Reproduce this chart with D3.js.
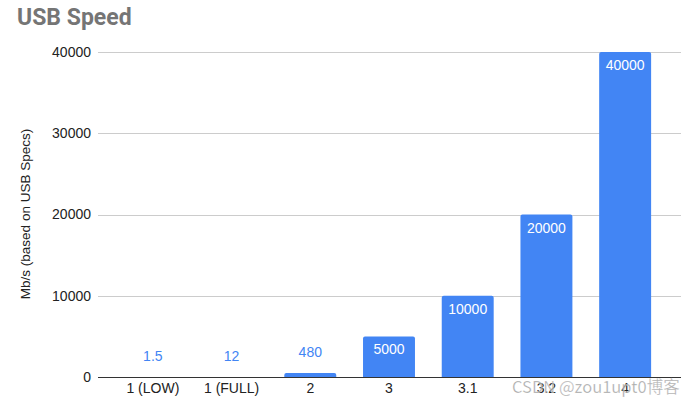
<!DOCTYPE html>
<html>
<head>
<meta charset="utf-8">
<script src="https://cdn.jsdelivr.net/npm/d3@7"></script>
<style>
  html, body { margin: 0; padding: 0; background: #fff; }
  svg { display: block; }
</style>
</head>
<body>
<svg id="chart" width="700" height="406"></svg>
<script>
const categories = ["1 (LOW)", "1 (FULL)", "2", "3", "3.1", "3.2", "4"];
const values = [1.5, 12, 480, 5000, 10000, 20000, 40000];
const valueLabels = ["1.5", "12", "480", "5000", "10000", "20000", "40000"];
const yTicks = [0, 10000, 20000, 30000, 40000];

const svg = d3.select("#chart");
const titleFont = "Roboto, Arial, sans-serif";
const font = "Arial, 'Liberation Sans', Helvetica, sans-serif";
const blue = "#4285F4";

const gridLeft = 98, gridRight = 681;
const x = d3.scaleBand().domain(categories).range([113.5, 664.5]).paddingInner(0.34).paddingOuter(0.17);
const y = d3.scaleLinear().domain([0, 40000]).range([377, 52]);

// title
svg.append("text").attr("x", 17).attr("y", 25)
  .attr("font-family", titleFont).attr("font-size", 23).attr("font-weight", "bold")
  .attr("fill", "#757575").text("USB Speed");

// gridlines
svg.append("g").selectAll("line").data(yTicks.filter(d => d !== 0)).join("line")
  .attr("x1", gridLeft).attr("x2", gridRight)
  .attr("y1", d => Math.round(y(d)) + 0.5).attr("y2", d => Math.round(y(d)) + 0.5)
  .attr("stroke", "#cccccc").attr("stroke-width", 1);

// y axis labels
const yAxis = d3.axisLeft(y).tickValues(yTicks).tickSize(0).tickPadding(0).tickFormat(d3.format("d"));
const gy = svg.append("g").attr("transform", `translate(${91},0)`).call(yAxis);
gy.select(".domain").remove();
gy.selectAll("text").attr("font-family", font).attr("font-size", 14).attr("fill", "#222");

// y axis title
svg.append("text")
  .attr("transform", `translate(30,214) rotate(-90)`)
  .attr("text-anchor", "middle")
  .attr("font-family", font).attr("font-size", 13.5).attr("fill", "#222")
  .text("Mb/s (based on USB Specs)");

// bars
svg.append("g").selectAll("path").data(values).join("path")
  .attr("d", (d, i) => {
    const x0 = x(categories[i]), w = x.bandwidth();
    const y0 = y(d), y1 = y(0);
    const h = y1 - y0;
    if (h < 0.5) return "";
    const r = Math.min(2, h);
    return `M${x0},${y1} L${x0},${y0 + r} Q${x0},${y0} ${x0 + r},${y0} L${x0 + w - r},${y0} Q${x0 + w},${y0} ${x0 + w},${y0 + r} L${x0 + w},${y1} Z`;
  })
  .attr("fill", blue);

// value labels
svg.append("g").selectAll("text").data(values).join("text")
  .attr("x", (d, i) => x(categories[i]) + x.bandwidth() / 2)
  .attr("y", d => {
    const h = y(0) - y(d);
    if (h > 25) return y(d) + 18;
    return Math.min(y(d), y(0)) - 16;
  })
  .attr("text-anchor", "middle")
  .attr("font-family", font).attr("font-size", 14)
  .attr("fill", d => (y(0) - y(d) > 25 ? "#fff" : blue))
  .text((d, i) => valueLabels[i]);

// zero line
svg.append("line").attr("x1", gridLeft).attr("x2", gridRight)
  .attr("y1", y(0) + 0.5).attr("y2", y(0) + 0.5)
  .attr("stroke", "#333").attr("stroke-width", 1);

// x axis labels
const xAxis = d3.axisBottom(x).tickSize(0).tickPadding(0);
const gx = svg.append("g").attr("transform", `translate(0,${383})`).call(xAxis);
gx.select(".domain").remove();
gx.selectAll("text").attr("font-family", font).attr("font-size", 14).attr("fill", "#222");

// watermark
svg.append("text").attr("x", 512).attr("y", 393)
  .attr("font-family", "'Noto Sans CJK SC', " + font).attr("font-size", 16.5)
  .attr("fill", "#9a9a9a").attr("fill-opacity", 0.85)
  .attr("stroke", "#ffffff").attr("stroke-width", 0.6).attr("stroke-opacity", 0.5)
  .text("CSDN @zou1upt0博客");
</script>
</body>
</html>
